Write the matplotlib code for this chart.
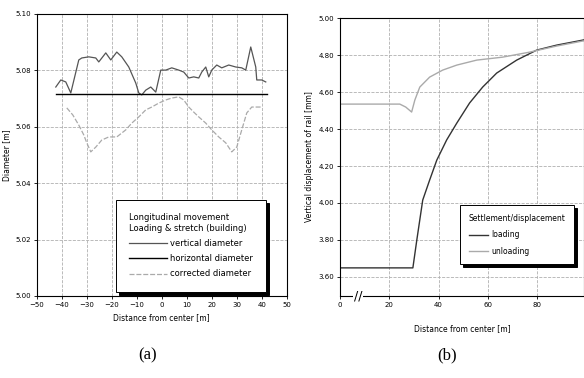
import matplotlib
matplotlib.use("Agg")
import matplotlib.pyplot as plt
import numpy as np

# ---- data (a) ----
a_x_vert = [-42.4, -40.4, -38.4, -36.4, -33.2, -32.0, -29.2, -26.4, -25.2, -22.4, -20.4, -18.0,
            -16.0, -13.2, -10.4, -9.2, -8.0, -6.4, -4.4, -2.4, -0.4, 1.6, 4.0, 6.8, 8.8, 10.8,
            12.8, 14.8, 16.0, 17.6, 18.8, 20.0, 22.0, 24.0, 26.8, 29.6, 32.0, 33.6, 35.6, 37.6,
            38.0, 40.0, 41.6]
a_y_vert = [5.0741, 5.0766, 5.0759, 5.0720, 5.0837, 5.0844, 5.0848, 5.0844, 5.0830, 5.0862, 5.0837,
            5.0865, 5.0848, 5.0812, 5.0755, 5.0720, 5.0713, 5.0730, 5.0741, 5.0723, 5.0801, 5.0801,
            5.0809, 5.0801, 5.0794, 5.0773, 5.0777, 5.0773, 5.0794, 5.0812, 5.0777, 5.0801, 5.0819,
            5.0809, 5.0819, 5.0812, 5.0809, 5.0801, 5.0883, 5.0812, 5.0766, 5.0766, 5.0759]
a_x_horiz = [-42.4, 42.0]
a_y_horiz = [5.0716, 5.0716]
a_x_corr = [-38.0, -35.6, -33.2, -31.2, -30.0, -28.4, -26.4, -24.0, -21.2, -18.0, -14.4, -12.0,
            -9.2, -6.4, -4.0, -1.2, 1.6, 4.0, 6.8, 8.8, 10.8, 12.8, 14.8, 17.6, 20.0, 22.8, 25.6,
            28.0, 30.0, 32.0, 34.0, 36.0, 40.0]
a_y_corr = [5.0667, 5.0642, 5.0606, 5.0571, 5.0543, 5.0511, 5.0528, 5.0553, 5.0564, 5.0564, 5.0589,
            5.0613, 5.0635, 5.0660, 5.0670, 5.0684, 5.0695, 5.0702, 5.0706, 5.0695, 5.0670, 5.0652,
            5.0635, 5.0613, 5.0589, 5.0564, 5.0543, 5.0511, 5.0528, 5.0589, 5.0649, 5.0670, 5.0670]
a_xticks = [-50, -40, -30, -20, -10, 0, 10, 20, 30, 40, 50]
a_yticks = [5.00, 5.02, 5.04, 5.06, 5.08, 5.10]
a_labels = ["vertical diameter", "horizontal diameter", "corrected diameter"]
a_legend_title = "Longitudinal movement\nLoading & stretch (building)"

# ---- data (b) ----
b_x_load = [0.0, 29.6, 31.2, 33.6, 36.4, 39.3, 43.3, 47.4, 52.6, 57.9, 63.6, 71.7, 79.8, 87.9, 98.4, 100.0]
b_y_load = [3.649, 3.649, 3.80, 4.016, 4.124, 4.232, 4.341, 4.432, 4.541, 4.627, 4.703, 4.773,
            4.827, 4.854, 4.881, 4.885]
b_x_unload = [0.0, 24.3, 26.7, 29.1, 30.4, 32.4, 36.4, 41.7, 47.4, 55.5, 66.0, 76.9, 87.9, 98.4, 100.0]
b_y_unload = [4.535, 4.535, 4.519, 4.492, 4.557, 4.627, 4.681, 4.719, 4.746, 4.773, 4.789, 4.816,
              4.849, 4.876, 4.880]
b_xticks = [0, 20, 40, 60, 80]
b_yticks = [3.60, 3.80, 4.00, 4.20, 4.40, 4.60, 4.80, 5.00]
b_labels = ["loading", "unloading"]
b_legend_title = "Settlement/displacement"

plt.rcParams['font.family'] = ['DejaVu Sans']
fig = plt.figure(figsize=(5.84, 3.78), dpi=100)

grid_kw = dict(color='#b0b0b0', linestyle='--', linewidth=0.6)
shadow_kw = {'color': 'black', 'alpha': 1.0, 'ox': 2, 'oy': -2}

# (a)
ax1 = fig.add_axes([0.063, 0.217, 0.428, 0.746])
ax1.plot(a_x_vert, a_y_vert, color='#555555', lw=0.9, label=a_labels[0])
ax1.plot(a_x_horiz, a_y_horiz, color='black', lw=1.0, label=a_labels[1])
ax1.plot(a_x_corr, a_y_corr, color='#aaaaaa', lw=0.9, ls=(0, (4, 1.5)), label=a_labels[2])
ax1.set_xlim(-50, 50)
ax1.set_ylim(5.00, 5.10)
ax1.set_xticks(a_xticks)
ax1.set_yticks(a_yticks)
ax1.set_yticklabels([f"{v:.2f}" for v in a_yticks])
ax1.tick_params(labelsize=5, length=2, width=0.6, pad=2)
ax1.grid(True, **grid_kw)
ax1.set_xlabel("Distance from center [m]", fontsize=5.5, labelpad=4)
ax1.set_ylabel("Diameter [m]", fontsize=5.5, labelpad=3)
leg1 = ax1.legend(title=a_legend_title, loc='lower right', fontsize=6, title_fontsize=6,
                  fancybox=False, shadow=shadow_kw, framealpha=1, edgecolor='black',
                  handlelength=4.5, borderpad=1.6, labelspacing=0.75, handletextpad=0.4,
                  bbox_to_anchor=(0.935, 0.0))
leg1._legend_box.align = "left"
leg1.get_frame().set_linewidth(0.7)
for s in ax1.spines.values():
    s.set_linewidth(0.8)

# (b)
ax2 = fig.add_axes([0.582, 0.217, 0.418, 0.735])
ax2.plot(b_x_load, b_y_load, color='#333333', lw=1.0, label=b_labels[0])
ax2.plot(b_x_unload, b_y_unload, color='#aaaaaa', lw=1.0, label=b_labels[1])
ax2.set_xlim(0, 99)
ax2.set_ylim(3.497, 5.00)
ax2.set_xticks(b_xticks)
ax2.set_yticks(b_yticks)
ax2.set_yticklabels([f"{v:.2f}" for v in b_yticks])
ax2.tick_params(labelsize=5, length=2, width=0.6, pad=2)
ax2.grid(True, **grid_kw)
ax2.set_xlabel("Distance from center [m]", fontsize=5.5, labelpad=12)
ax2.set_ylabel("Vertical displacement of rail [mm]", fontsize=5.5, labelpad=3)
leg2 = ax2.legend(title=b_legend_title, loc='lower right', fontsize=5.5, title_fontsize=5.5,
                  fancybox=False, shadow=shadow_kw, framealpha=1, edgecolor='black',
                  handlelength=2.5, borderpad=1.1, labelspacing=1.0, handletextpad=0.4,
                  bbox_to_anchor=(0.975, 0.10))
leg2._legend_box.align = "left"
leg2.get_frame().set_linewidth(0.7)
ax2.text(7.5, 3.497, "//", fontsize=9, ha='center', va='center', transform=ax2.transData,
         bbox=dict(facecolor='white', edgecolor='none', pad=0.5))
for s in ax2.spines.values():
    s.set_linewidth(0.8)

fig.text(0.252, 0.061, "(a)", fontsize=12, family='Liberation Serif', ha='center', va='center')
fig.text(0.765, 0.061, "(b)", fontsize=12, family='Liberation Serif', ha='center', va='center')

fig.savefig("out.png", dpi=100)
